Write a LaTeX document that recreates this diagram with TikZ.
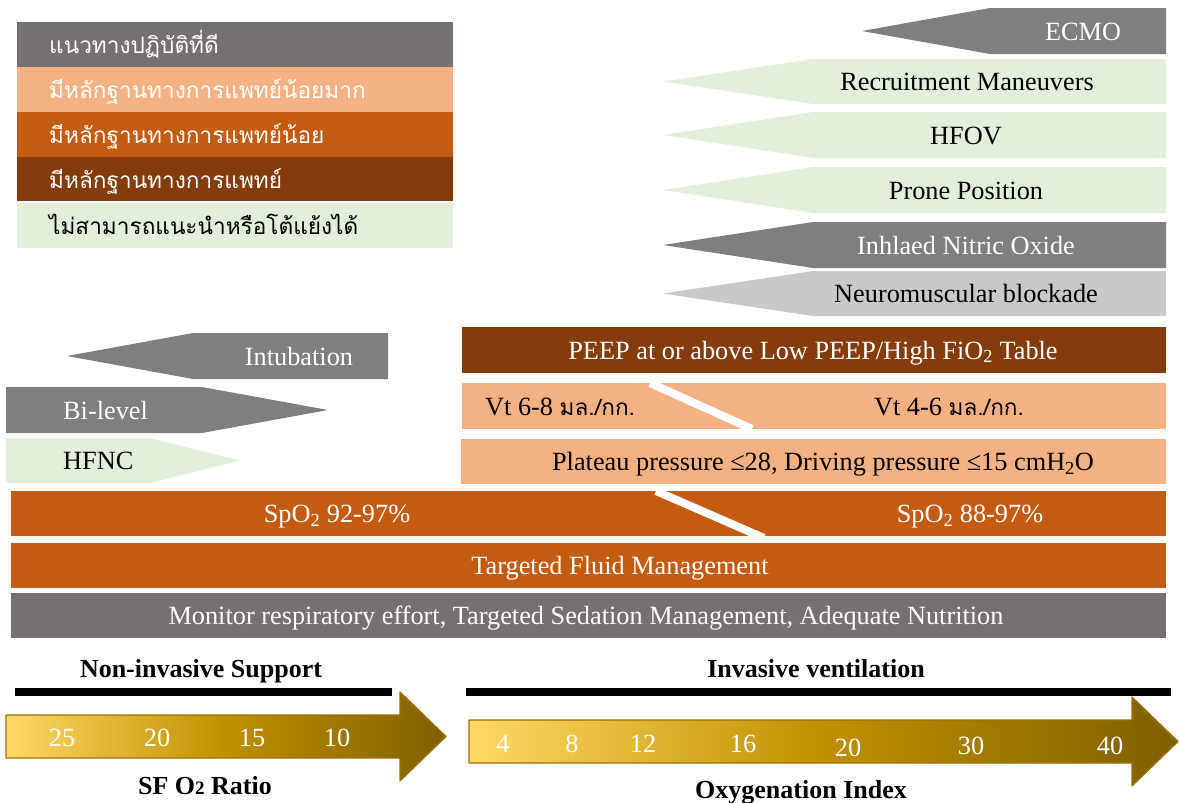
\documentclass[tikz,border=0pt]{standalone}
\usepackage{fontspec}
\setmainfont{Liberation Serif}
\newfontfamily\thaifont[Script=Thai, Scale=0.86]{Loma}
\definecolor{grayA}{HTML}{767171}
\definecolor{grayB}{HTML}{7F7F7F}
\definecolor{grayC}{HTML}{C9C9C9}
\definecolor{peach}{HTML}{F4B183}
\definecolor{rust}{HTML}{C55A11}
\definecolor{brown}{HTML}{843C0C}
\definecolor{lgreen}{HTML}{E2EFDA}
\definecolor{goldA}{HTML}{FFD966}
\definecolor{goldB}{HTML}{BF9000}
\definecolor{goldC}{HTML}{7F6000}
\tikzset{
  txt/.style={inner sep=0pt, text height=20pt, text depth=2pt},
  head/.style={txt, font=\fontsize{26}{30}\selectfont\bfseries},
  scalearrow/.style={left color=goldA, right color=goldC, middle color=goldB, draw=goldB!80!black, line width=1.2pt},
  split/.style={white, line width=8pt}
}
\begin{document}
\begin{tikzpicture}[x=1pt, y=-1pt, font=\fontsize{26.3}{30}\selectfont, line join=round]
\useasboundingbox (0,0) rectangle (1179,803);
% legend
\foreach \ya/\yb/\c/\tc/\txt [count=\i] in {
  22/67/grayA/white/{แนวทางปฏิบัติที่ดี},
  67/112/peach/white/{มีหลักฐานทางการแพทย์น้อยมาก},
  112/157/rust/white/{มีหลักฐานทางการแพทย์น้อย},
  157/201/brown/white/{มีหลักฐานทางการแพทย์},
  203/248/lgreen/black/{ไม่สามารถแนะนำหรือโต้แย้งได้}}
  {\fill[\c] (17,\ya) rectangle (453,\yb);
   \node[txt, anchor=west, text=\tc] (leg\i) at (49,{(\ya+\yb)/2}) {\thaifont\txt};}
% therapies pointing left
\foreach \tip/\rl/\ya/\yb/\c/\tc/\tx/\txt [count=\i] in {
  862/990/8/54/grayB/white/1083/ECMO,
  663/813/59/104/lgreen/black/967/Recruitment Maneuvers,
  663/813/112/158/lgreen/black/966/HFOV,
  663/813/167/213/lgreen/black/966/Prone Position,
  663/813/222/268/grayB/white/966/Inhlaed Nitric Oxide,
  663/813/271/316/grayC/black/966/Neuromuscular blockade,
  67/193/333/379/grayB/white/299/Intubation}
  {\ifnum\i=7 \def\rr{388}\else\def\rr{1166}\fi
   \fill[\c] (\tip,{(\ya+\yb)/2}) -- (\rl,\ya) -- (\rr,\ya) -- (\rr,\yb) -- (\rl,\yb) -- cycle;
   \node[txt, text=\tc] (rx\i) at (\tx,{(\ya+\yb)/2}) {\txt};}
% non-invasive pointing right
\fill[grayB] (6,387) -- (202,387) -- (328,410) -- (202,433) -- (6,433) -- cycle;
\node[txt, anchor=west, text=white] (bilevel) at (63,410) {Bi-level};
\fill[lgreen] (6,438) -- (150,438) -- (240,460.5) -- (150,483) -- (6,483) -- cycle;
\node[txt, anchor=west] (hfnc) at (63,460.5) {HFNC};
% ventilator settings
\fill[brown] (462,327) rectangle (1166,373);
\node[txt, text=white] (peep) at (813,350) {PEEP at or above Low PEEP/High FiO\textsubscript{2} Table};
\fill[peach] (462,383) rectangle (1166,429);
\draw[split] (650,383) -- (752,429);
\node[txt, anchor=west] (vtlow) at (485,406) {Vt 6-8 {\thaifont มล./กก.}};
\node[txt] (vthigh) at (949,406) {Vt 4-6 {\thaifont มล./กก.}};
\fill[peach] (461,439) rectangle (1166,484);
\node[txt] (plateau) at (823,461.5) {Plateau pressure ≤28, Driving pressure ≤15 cmH\textsubscript{2}O};
% common bars
\fill[rust] (11,491) rectangle (1166,536);
\draw[split] (656,491) -- (764,538);
\node[txt, text=white] (spohi) at (337,513.5) {SpO\textsubscript{2} 92-97\%};
\node[txt, text=white] (spolo) at (970,513.5) {SpO\textsubscript{2} 88-97\%};
\fill[rust] (11,543) rectangle (1166,588);
\node[txt, text=white] (fluid) at (620,565.5) {Targeted Fluid Management};
\fill[grayA] (11,593) rectangle (1166,638);
\node[txt, text=white] (monitor) at (586,615.5) {Monitor respiratory effort, Targeted Sedation Management, Adequate Nutrition};
% scales
\node[head] (niv) at (201,668) {Non-invasive Support};
\node[head] (iv) at (816,668) {Invasive ventilation};
\draw[line width=8pt] (15,692) -- (392,692) (466,692) -- (1171,692);
\shade[scalearrow] (6,715) -- (400,715) -- (400,692) -- (446,736.5) -- (400,781) -- (400,758) -- (6,758) -- cycle;
\shade[scalearrow] (469,720) -- (1132,720) -- (1132,697) -- (1178,741.5) -- (1132,786) -- (1132,763) -- (469,763) -- cycle;
\foreach \x/\n in {62/25,157/20,252/15,337/10}
  \node[txt, text=white] (sf\n) at (\x,737) {\n};
\foreach \x/\y/\n in {503/743/4,572/743/8,643/743/12,743/743/16,848/747/20,971/745/30,1110/745/40}
  \node[txt, text=white] (oi\n) at (\x,\y) {\n};
\node[head] (sfr) at (205,785) {SF O{\fontsize{19}{20}\selectfont 2} Ratio};
\node[head] (oix) at (801,789) {Oxygenation Index};
\end{tikzpicture}
\end{document}
